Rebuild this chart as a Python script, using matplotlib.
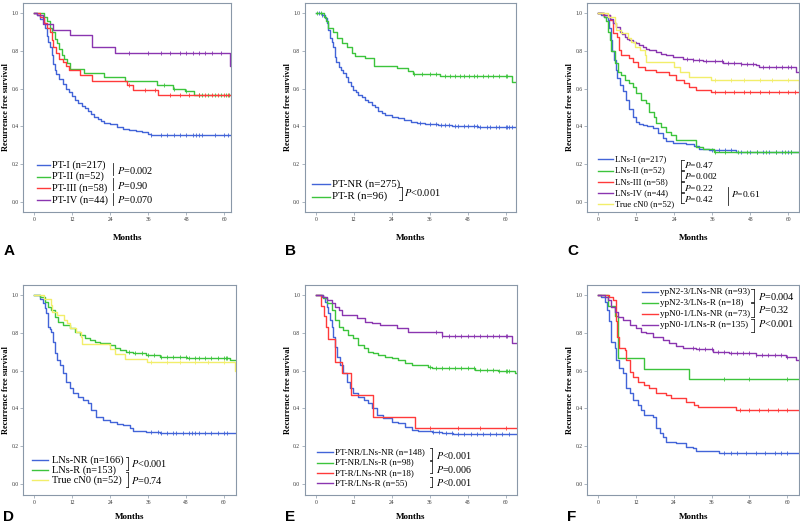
import numpy as np
import matplotlib
matplotlib.use("Agg")
import matplotlib.pyplot as plt

plt.rcParams['font.family'] = ['Liberation Serif', 'DejaVu Serif']
plt.rcParams['mathtext.fontset'] = 'stix'

BLUE = '#4264d8'
GREEN = '#3cc43c'
RED = '#ff3a3a'
PURPLE = '#8a35b0'
YELLOW = '#f2ee6a'
FRAME = '#8a98a8'

# ---- Panel A: PT groups ----
a_blue_t = [0, 1, 2, 3, 3.5, 4, 4.5, 5, 5.5, 6, 6.5, 7, 8, 9, 10, 11, 12, 13, 14, 15, 16, 17, 18, 19, 20, 21, 22, 24, 26, 28, 30, 32, 34, 36, 37]
a_blue_s = [1.0, 0.99, 0.97, 0.95, 0.92, 0.88, 0.85, 0.82, 0.78, 0.73, 0.70, 0.68, 0.65, 0.625, 0.60, 0.58, 0.56, 0.54, 0.525, 0.51, 0.495, 0.48, 0.465, 0.45, 0.44, 0.43, 0.42, 0.41, 0.395, 0.385, 0.38, 0.375, 0.37, 0.36, 0.355]
a_blue_c = [37, 40, 42, 44, 46, 48, 50, 51, 52, 53, 57, 60, 61, 62]
a_green_t = [0, 3, 4, 5, 5.6, 6.5, 7.2, 8, 8.7, 9.5, 10.3, 11.4, 15.6, 21.9, 28.7, 38.7, 43.9, 47.6, 50.5]
a_green_s = [1.0, 0.98, 0.96, 0.92, 0.90, 0.865, 0.84, 0.81, 0.78, 0.755, 0.735, 0.705, 0.685, 0.66, 0.64, 0.62, 0.60, 0.585, 0.565]
a_green_c = [41, 44, 48, 52, 53, 55, 57, 59, 60.5, 61.5]
a_red_t = [0, 2, 3, 4, 5, 5.5, 6, 7, 8, 9, 10, 11, 14.5, 18.2, 29.2, 31.3, 39.2]
a_red_s = [1.0, 0.98, 0.95, 0.92, 0.90, 0.86, 0.82, 0.79, 0.76, 0.74, 0.72, 0.70, 0.675, 0.64, 0.62, 0.595, 0.565]
a_red_c = [30, 35, 38, 43, 46, 49, 52, 54, 56, 58, 60, 61]
a_purple_t = [0, 1, 2.9, 6.1, 11.3, 18.2, 25.5, 61.8]
a_purple_s = [1.0, 0.99, 0.945, 0.91, 0.885, 0.82, 0.79, 0.72]
a_purple_c = [30, 36, 40, 43, 46, 48, 50, 52, 54, 56, 59]
a_labels = ['PT-I (n=217)', 'PT-II (n=52)', 'PT-III (n=58)', 'PT-IV (n=44)']
a_pvals = ['0.002', '0.90', '0.070']

# ---- Panel B: PT response ----
b_blue_t = [0, 2, 3, 3.5, 4, 4.5, 5, 5.6, 6, 6.5, 7.2, 8, 8.7, 9.5, 10.3, 11, 11.9, 12.7, 13.5, 14.5, 15.6, 16.6, 17.7, 18.8, 19.8, 21, 22, 24, 26, 28, 30, 32, 34.5, 38.7, 43, 51.4]
b_blue_s = [1.0, 0.99, 0.975, 0.95, 0.91, 0.87, 0.85, 0.82, 0.77, 0.74, 0.715, 0.70, 0.685, 0.66, 0.635, 0.615, 0.595, 0.58, 0.565, 0.555, 0.54, 0.53, 0.515, 0.50, 0.48, 0.47, 0.462, 0.452, 0.443, 0.435, 0.422, 0.418, 0.414, 0.406, 0.40, 0.395]
b_blue_c = [1, 2, 33, 36, 38, 39.5, 41, 42, 44, 45, 47, 48, 50, 51, 52, 54, 55, 57, 58, 60, 60.5, 61, 62]
b_green_t = [0, 2.5, 3.3, 4, 5.6, 6.6, 8.2, 9.8, 11.6, 12.5, 15.6, 18.5, 25.6, 29.3, 30.8, 39.3, 61.9]
b_green_s = [1.0, 0.98, 0.96, 0.92, 0.90, 0.867, 0.84, 0.823, 0.79, 0.775, 0.762, 0.722, 0.708, 0.694, 0.68, 0.667, 0.637]
b_green_c = [0.5, 1.5, 31, 33.5, 36, 38, 41, 42.5, 44, 45.5, 47, 48.5, 50, 51, 53, 54.5, 56, 58, 60, 60.5]
b_labels = ['PT-NR (n=275)', 'PT-R (n=96)']

# ---- Panel C: LNs groups ----
c_blue_t = [0, 1, 2, 3, 3.5, 4, 4.5, 5, 5.5, 6, 6.8, 7.9, 8.9, 9.9, 11, 12, 13, 14.1, 15.5, 17.3, 18.8, 20.4, 21.5, 23.6, 27.7, 30.4, 31.9, 35.1, 43.5]
c_blue_s = [1.0, 0.99, 0.98, 0.965, 0.92, 0.86, 0.80, 0.75, 0.70, 0.655, 0.62, 0.585, 0.54, 0.49, 0.45, 0.425, 0.41, 0.405, 0.40, 0.39, 0.365, 0.34, 0.32, 0.31, 0.305, 0.295, 0.28, 0.275, 0.265]
c_blue_c = [36, 38, 40, 42, 45, 48, 50, 52, 54, 56, 58, 60, 61]
c_green_t = [0, 2, 2.5, 3.1, 3.7, 4.2, 5.2, 6.3, 7.3, 8.4, 9.9, 11, 12, 13.6, 15.2, 16.2, 17.8, 18.3, 19.9, 21.5, 23, 24.6, 30.9, 33, 36.6]
c_green_s = [1.0, 0.98, 0.96, 0.90, 0.86, 0.80, 0.735, 0.69, 0.673, 0.646, 0.628, 0.61, 0.575, 0.54, 0.522, 0.478, 0.451, 0.416, 0.398, 0.372, 0.354, 0.327, 0.29, 0.28, 0.265]
c_green_c = [37, 40, 44, 47, 50, 53, 56, 59, 61]
c_red_t = [0, 1.5, 3.7, 4.7, 6, 6.6, 7.3, 9.9, 11, 12.6, 14.7, 18.3, 22.5, 24.6, 27.2, 28.8, 30.9, 35.6]
c_red_s = [1.0, 0.99, 0.965, 0.894, 0.876, 0.805, 0.779, 0.761, 0.743, 0.717, 0.70, 0.69, 0.673, 0.646, 0.628, 0.607, 0.593, 0.58]
c_red_c = [37, 40, 43, 46, 48, 51, 54, 57, 60, 62]
c_purple_t = [0, 2, 3.7, 4.7, 5.8, 6.8, 7.5, 8.4, 9.2, 9.9, 11, 12, 13, 14.1, 15.2, 16.2, 18.3, 20, 21.5, 23.6, 26.7, 30, 33, 39.3, 45, 49.7, 50.8, 62.3]
c_purple_s = [1.0, 0.99, 0.97, 0.947, 0.929, 0.903, 0.89, 0.876, 0.865, 0.858, 0.848, 0.84, 0.83, 0.823, 0.813, 0.805, 0.793, 0.785, 0.779, 0.766, 0.756, 0.75, 0.745, 0.738, 0.732, 0.726, 0.717, 0.69]
c_purple_c = [28, 30, 32, 34, 37, 39, 41, 43, 45, 47, 49, 52, 54, 56, 58, 60, 61]
cn0_t = [0, 3.1, 5.2, 5.8, 7.3, 9.4, 10.5, 11.5, 13.1, 14.7, 15.2, 24.1, 25.7, 28.8, 35.6, 63.5]
cn0_s = [1.0, 0.98, 0.947, 0.91, 0.894, 0.867, 0.85, 0.823, 0.805, 0.779, 0.743, 0.717, 0.69, 0.664, 0.646, 0.60]
cn0_c = [37, 42, 46, 51, 55, 60]
c_labels = ['LNs-I (n=217)', 'LNs-II (n=52)', 'LNs-III (n=58)', 'LNs-IV (n=44)', 'True cN0 (n=52)']
c_pvals = ['0.47', '0.002', '0.22', '0.42']
c_pall = '0.61'

# ---- Panel D: LNs response ----
d_blue_t = [0, 1.8, 2.8, 3.4, 3.9, 4.4, 5, 5.5, 6, 6.5, 7.3, 8.1, 9.2, 10.2, 11.3, 12.3, 13.9, 15.5, 17.1, 18.1, 19.7, 21.8, 23.9, 26.1, 28.2, 30.3, 31.3, 35.5, 39.8, 44]
d_blue_s = [1.0, 0.98, 0.956, 0.93, 0.903, 0.833, 0.82, 0.806, 0.753, 0.691, 0.656, 0.63, 0.586, 0.541, 0.506, 0.48, 0.462, 0.444, 0.427, 0.392, 0.356, 0.339, 0.326, 0.317, 0.312, 0.295, 0.282, 0.277, 0.272, 0.268]
d_blue_c = [37, 39, 40, 42, 44, 45, 47, 49, 50, 51, 52, 54, 56, 58, 60, 61]
d_green_t = [0, 1.8, 3.4, 4.4, 5.5, 6.5, 7.6, 9.2, 11.3, 12.9, 14.5, 16, 17.6, 19.2, 20.8, 23.9, 25.5, 27.1, 29.2, 31.3, 35.5, 39.8, 48.2, 52.4, 61.9]
d_green_s = [1.0, 0.99, 0.965, 0.938, 0.92, 0.885, 0.859, 0.841, 0.824, 0.806, 0.788, 0.771, 0.762, 0.753, 0.744, 0.735, 0.718, 0.709, 0.70, 0.691, 0.683, 0.674, 0.668, 0.665, 0.656]
d_green_c = [30, 32, 34, 36, 38, 40, 42, 44, 46, 48, 49, 51, 52, 54, 56, 58, 60, 60.5, 61]
d_labels = ['LNs-NR (n=166)', 'LNs-R (n=153)', 'True cN0 (n=52)']
d_pvals = ['<0.001', '=0.74']

# ---- Panel E: PT/LNs combined ----
e_blue_t = [0, 1.9, 2.9, 3.5, 4, 4.5, 5.1, 5.6, 6.1, 6.6, 7.7, 8.7, 9.8, 10.8, 11.9, 13.5, 15.1, 16.6, 17.7, 19.3, 21.4, 24, 26.1, 28.2, 30.3, 32.4, 36.6, 39.8, 43.5]
e_blue_s = [1.0, 0.99, 0.965, 0.935, 0.903, 0.87, 0.833, 0.78, 0.727, 0.674, 0.63, 0.586, 0.541, 0.506, 0.48, 0.462, 0.444, 0.427, 0.40, 0.365, 0.347, 0.33, 0.321, 0.303, 0.286, 0.282, 0.277, 0.268, 0.263]
e_blue_c = [37, 39, 41, 43, 45, 47, 49, 51, 53, 55, 57, 59, 61]
e_green_t = [0, 2.4, 3.5, 5.1, 6.1, 7.2, 8.7, 10.3, 11.9, 13.5, 15.1, 16.6, 18.2, 19.8, 21.9, 24, 26.1, 28.2, 30.3, 35.6, 36.6, 50.3, 57.7, 62.9]
e_green_s = [1.0, 0.982, 0.956, 0.921, 0.868, 0.833, 0.815, 0.788, 0.771, 0.735, 0.718, 0.70, 0.691, 0.683, 0.674, 0.665, 0.656, 0.638, 0.63, 0.621, 0.612, 0.603, 0.598, 0.586]
e_green_c = [36, 38, 40, 42, 44, 46, 48, 50, 52, 54, 56, 58, 60, 60.5, 61]
e_red_t = [0, 1.5, 2.6, 3.3, 4, 6, 8.4, 11.2, 18.2, 31.4]
e_red_s = [1.0, 0.944, 0.889, 0.833, 0.765, 0.647, 0.588, 0.47, 0.353, 0.294]
e_red_c = [36, 45, 52, 60]
e_purple_t = [0, 2.3, 3.5, 5.1, 6.1, 7.2, 8.2, 12.9, 15.6, 17.7, 20.3, 25.6, 29.3, 39.8, 61.9]
e_purple_s = [1.0, 0.99, 0.974, 0.956, 0.938, 0.921, 0.894, 0.877, 0.859, 0.85, 0.841, 0.824, 0.806, 0.783, 0.744]
e_purple_c = [38, 40, 42, 44, 46, 48, 50, 52, 54, 56, 58, 60, 60.5]
e_labels = ['PT-NR/LNs-NR (n=148)', 'PT-NR/LNs-R (n=98)', 'PT-R/LNs-NR (n=18)', 'PT-R/LNs-R (n=55)']
e_pvals = ['<0.001', '=0.006', '<0.001']

# ---- Panel F: ypN/LNs combined ----
f_blue_t = [0, 1, 2.1, 2.8, 3.5, 4.2, 5.3, 5.8, 6.8, 7.9, 8.9, 10, 11.1, 12.6, 13.7, 14.7, 17.4, 18.4, 19.5, 20.5, 21.6, 24.7, 27.9, 30, 31.1, 38.4]
f_blue_s = [1.0, 0.99, 0.965, 0.921, 0.86, 0.753, 0.718, 0.656, 0.612, 0.586, 0.506, 0.48, 0.444, 0.418, 0.392, 0.365, 0.356, 0.295, 0.268, 0.25, 0.224, 0.219, 0.198, 0.189, 0.175, 0.166]
f_blue_c = [40, 42, 44, 47, 50, 53, 56, 58, 60]
f_green_t = [0, 3.2, 5.3, 6.3, 14.7, 28.9]
f_green_s = [1.0, 0.944, 0.889, 0.667, 0.611, 0.556]
f_green_c = [40, 48, 60]
f_red_t = [0, 3.5, 4.7, 5.6, 6, 6.8, 8.4, 8.9, 10, 11.1, 12.6, 14.7, 16.3, 18.4, 21.6, 23.2, 27.9, 30.5, 31.6, 43.7]
f_red_s = [1.0, 0.987, 0.974, 0.86, 0.78, 0.718, 0.709, 0.656, 0.594, 0.568, 0.541, 0.524, 0.506, 0.48, 0.471, 0.453, 0.436, 0.418, 0.409, 0.392]
f_red_c = [45, 48, 51, 54, 57, 60]
f_purple_t = [0, 2.1, 3.2, 4.2, 5.3, 6.3, 7.9, 10, 12.1, 13.7, 15.3, 17.4, 20.5, 22.6, 24.7, 26.8, 31.1, 36.3, 41.6, 50, 59.5, 62.6]
f_purple_s = [1.0, 0.99, 0.974, 0.938, 0.912, 0.885, 0.868, 0.841, 0.824, 0.806, 0.797, 0.78, 0.762, 0.744, 0.732, 0.718, 0.713, 0.70, 0.691, 0.683, 0.674, 0.656]
f_purple_c = [30, 32, 34, 36, 38, 40, 42, 44, 46, 48, 50, 52, 54, 56, 58, 60]
f_labels = ['ypN2-3/LNs-NR (n=93)', 'ypN2-3/LNs-R (n=18)', 'ypN0-1/LNs-NR (n=73)', 'ypN0-1/LNs-R (n=135)']
f_pvals = ['=0.004', '=0.32', '<0.001']

month_ticks = [0, 12, 24, 36, 48, 60]
surv_ticks = [0.0, 0.2, 0.4, 0.6, 0.8, 1.0]

W, H = 800, 527
fig = plt.figure(figsize=(W / 100, H / 100), dpi=100)
fig.patch.set_facecolor('white')


def panel(left, top, right, bottom, xmax, ymin, letter, letter_y, xlab_off):
    ax = fig.add_axes([left / W, 1 - bottom / H, (right - left) / W, (bottom - top) / H])
    ax.set_xlim(-3.4, xmax)
    ax.set_ylim(ymin, 1.053)
    ax.set_xticks(month_ticks)
    ax.set_yticks(surv_ticks)
    ax.set_yticklabels(['%.1f' % v for v in surv_ticks])
    ax.tick_params(labelsize=4, length=2, width=0.5, color=FRAME, labelcolor='#333333', pad=1.5)
    for sp in ax.spines.values():
        sp.set_color(FRAME)
        sp.set_linewidth(0.8)
    ax.set_ylabel('Recurrence free survival', fontsize=6, fontweight='bold')
    ax.yaxis.set_label_coords(-0.062, 0.5)
    ax.set_xlabel('Months', fontsize=6.5, fontweight='bold')
    ax.xaxis.set_label_coords(0.5, xlab_off)
    fig.text((left - 20) / W, 1 - letter_y / H, letter, fontsize=11,
             fontweight='bold', family='Liberation Sans', va='center', ha='left')
    return ax


def km(ax, t, s, cens, color):
    tt = list(t) + [80]
    ss = list(s) + [s[-1]]
    ax.step(tt, ss, where='post', color=color, lw=1.0)
    idx = np.searchsorted(np.asarray(t), np.asarray(cens), side='right') - 1
    ax.plot(cens, np.asarray(s)[idx], ls='none', marker='|', ms=3, mew=0.6, color=color)


def legend(ax, x0, x1, xt, ys, labels, colors, fs):
    for y, lab, c in zip(ys, labels, colors):
        ax.plot([x0, x1], [y, y], transform=ax.transAxes, color=c, lw=1.0)
        ax.text(xt, y, lab, transform=ax.transAxes, va='center', ha='left', fontsize=fs)


def bracket(ax, x, y0, y1, kind):
    ax.plot([x, x], [y0, y1], transform=ax.transAxes, color='#222222', lw=0.6)
    if kind:
        d = 0.012 * kind
        ax.plot([x + d, x], [y0, y0], transform=ax.transAxes, color='#222222', lw=0.6)
        ax.plot([x + d, x], [y1, y1], transform=ax.transAxes, color='#222222', lw=0.6)


def pval(ax, x, y, txt, fs=7.4):
    ax.text(x, y, r'$P$' + txt, transform=ax.transAxes, va='center', ha='left', fontsize=fs)


# A
ax = panel(23.3, 3.3, 231, 211.7, 62.1, -0.053, 'A', 251, -0.105)
km(ax, a_blue_t, a_blue_s, a_blue_c, BLUE)
km(ax, a_green_t, a_green_s, a_green_c, GREEN)
km(ax, a_red_t, a_red_s, a_red_c, RED)
km(ax, a_purple_t, a_purple_s, a_purple_c, PURPLE)
legend(ax, 0.064, 0.128, 0.137, [0.224, 0.168, 0.114, 0.056], a_labels,
       [BLUE, GREEN, RED, PURPLE], 7.45)
for (y0, y1), yp, p in zip([(0.176, 0.234), (0.104, 0.162), (0.032, 0.09)], [0.2, 0.128, 0.06], a_pvals):
    bracket(ax, 0.434, y0, y1, 0)
    pval(ax, 0.45, yp, '=' + p)

# B
ax = panel(305, 3.3, 515.7, 211.7, 63.2, -0.053, 'B', 251, -0.105)
km(ax, b_blue_t, b_blue_s, b_blue_c, BLUE)
km(ax, b_green_t, b_green_s, b_green_c, GREEN)
legend(ax, 0.032, 0.119, 0.127, [0.131, 0.072], b_labels, [BLUE, GREEN], 7.8)
bracket(ax, 0.459, 0.056, 0.12, -1)
pval(ax, 0.47, 0.091, '<0.001', 7.5)

# C
ax = panel(587.3, 3.3, 799, 211.7, 63.4, -0.053, 'C', 251, -0.105)
km(ax, c_blue_t, c_blue_s, c_blue_c, BLUE)
km(ax, c_green_t, c_green_s, c_green_c, GREEN)
km(ax, c_red_t, c_red_s, c_red_c, RED)
km(ax, c_purple_t, c_purple_s, c_purple_c, PURPLE)
km(ax, cn0_t, cn0_s, cn0_c, YELLOW)
legend(ax, 0.052, 0.122, 0.13, [0.251, 0.197, 0.144, 0.091, 0.037], c_labels,
       [BLUE, GREEN, RED, PURPLE, YELLOW], 6.3)
for (y0, y1), yp, p in zip([(0.20, 0.25), (0.146, 0.196), (0.093, 0.143), (0.04, 0.09)],
                           [0.224, 0.171, 0.115, 0.061], c_pvals):
    bracket(ax, 0.444, y0, y1, 1)
    pval(ax, 0.459, yp, '=' + p, 6.8)
bracket(ax, 0.666, 0.032, 0.12, 0)
pval(ax, 0.679, 0.083, '=' + c_pall, 6.8)

# D
ax = panel(23.3, 285, 236, 495, 63.8, -0.058, 'D', 517, -0.088)
km(ax, d_blue_t, d_blue_s, d_blue_c, BLUE)
km(ax, d_green_t, d_green_s, d_green_c, GREEN)
km(ax, cn0_t, cn0_s, cn0_c, YELLOW)
legend(ax, 0.042, 0.118, 0.133, [0.167, 0.119, 0.071], d_labels, [BLUE, GREEN, YELLOW], 7.5)
for (y0, y1), yp, p in zip([(0.117, 0.183), (0.04, 0.108)], [0.148, 0.071], d_pvals):
    bracket(ax, 0.494, y0, y1, -1)
    pval(ax, 0.505, yp, p)

# E
ax = panel(305, 285, 516.7, 495, 63.5, -0.058, 'E', 517, -0.088)
km(ax, e_blue_t, e_blue_s, e_blue_c, BLUE)
km(ax, e_green_t, e_green_s, e_green_c, GREEN)
km(ax, e_red_t, e_red_s, e_red_c, RED)
km(ax, e_purple_t, e_purple_s, e_purple_c, PURPLE)
legend(ax, 0.055, 0.134, 0.142, [0.206, 0.154, 0.103, 0.056], e_labels,
       [BLUE, GREEN, RED, PURPLE], 6.5)
for (y0, y1), yp, p in zip([(0.167, 0.222), (0.103, 0.163), (0.04, 0.087)], [0.19, 0.122, 0.058], e_pvals):
    bracket(ax, 0.602, y0, y1, -1)
    pval(ax, 0.617, yp, p, 7.3)

# F
ax = panel(587.3, 285, 799, 495, 63.7, -0.058, 'F', 517, -0.088)
km(ax, f_blue_t, f_blue_s, f_blue_c, BLUE)
km(ax, f_green_t, f_green_s, f_green_c, GREEN)
km(ax, f_red_t, f_red_s, f_red_c, RED)
km(ax, f_purple_t, f_purple_s, f_purple_c, PURPLE)
legend(ax, 0.257, 0.335, 0.343, [0.965, 0.915, 0.862, 0.808], f_labels,
       [BLUE, GREEN, RED, PURPLE], 6.7)
for (y0, y1), yp, p in zip([(0.92, 0.98), (0.848, 0.912), (0.776, 0.838)], [0.944, 0.881, 0.818], f_pvals):
    bracket(ax, 0.787, y0, y1, -1)
    pval(ax, 0.806, yp, p)

fig.savefig('out.png', dpi=100, facecolor='white')
